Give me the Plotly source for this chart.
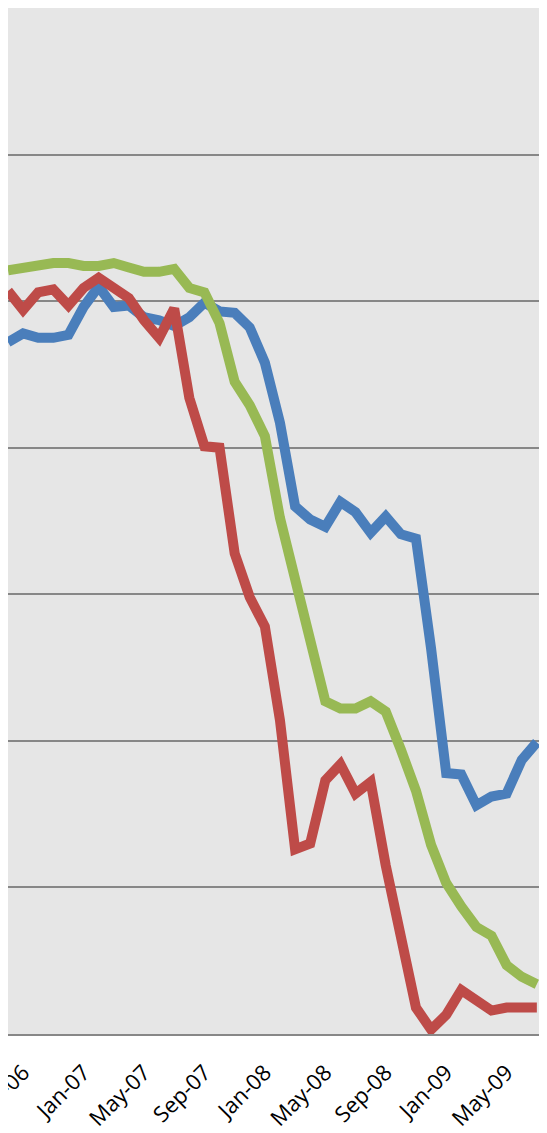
import plotly.graph_objects as go

months = ["Aug-06", "Sep-06", "Oct-06", "Nov-06", "Dec-06", "Jan-07", "Feb-07", "Mar-07",
          "Apr-07", "May-07", "Jun-07", "Jul-07", "Aug-07", "Sep-07", "Oct-07", "Nov-07",
          "Dec-07", "Jan-08", "Feb-08", "Mar-08", "Apr-08", "May-08", "Jun-08", "Jul-08",
          "Aug-08", "Sep-08", "Oct-08", "Nov-08", "Dec-08", "Jan-09", "Feb-09", "Mar-09",
          "Apr-09", "May-09", "Jun-09", "Jul-09"]

blue = [47.2, 47.8, 47.5, 47.5, 47.7, 49.6, 51.0, 49.6, 49.7, 48.9, 48.7, 48.3,
        48.9, 49.9, 49.3, 49.2, 48.2, 45.8, 41.7, 36.0, 35.1, 34.6, 36.3, 35.6,
        34.2, 35.3, 34.1, 33.8, 26.3, 17.8, 17.7, 15.6, 16.2, 16.4, 18.7, 19.9]

red = [50.7, 49.4, 50.6, 50.8, 49.7, 50.9, 51.6, 50.9, 50.2, 48.7, 47.5, 49.5,
       43.4, 40.1, 40.0, 32.8, 29.8, 27.8, 21.4, 12.6, 13.0, 17.3, 18.4, 16.4,
       17.2, 11.5, 6.6, 1.8, 0.3, 1.3, 3.0, 2.2, 1.6, 1.8, 1.8, 1.8]

green = [52.1, 52.3, 52.5, 52.6, 52.6, 52.4, 52.4, 52.6, 52.3, 52.0, 52.0, 52.2,
         50.9, 50.6, 48.5, 44.5, 42.9, 40.8, 35.2, 30.8, 26.9, 22.7, 22.2, 22.2,
         22.7, 22.0, 19.4, 16.6, 12.9, 10.3, 8.7, 7.3, 6.7, 4.7, 3.9, 3.4]

tick_labels = ["Sep-06", "Jan-07", "May-07", "Sep-07", "Jan-08", "May-08",
               "Sep-08", "Jan-09", "May-09"]

x = list(range(len(months)))
tick_pos = [months.index(t) for t in tick_labels]

fig = go.Figure()
for vals, col in [(blue, "#4A7EBB"), (red, "#BE4B48"), (green, "#98B954")]:
    fig.add_trace(go.Scatter(x=x, y=vals, mode="lines",
                             line=dict(color=col, width=10),
                             showlegend=False, hoverinfo="skip"))

fig.update_layout(
    width=539, height=1125,
    margin=dict(l=0, r=0, t=0, b=99, pad=0),
    paper_bgcolor="white",
    plot_bgcolor="#E6E6E6",
    xaxis=dict(range=[0, 539 / 15.11], tickvals=tick_pos, ticktext=tick_labels,
               tickangle=-45, showgrid=False, zeroline=False,
               showline=True, linecolor="#878787", linewidth=2,
               tickfont=dict(family="Open Sans", size=22, color="black"),
               ticks="", ticklabeloverflow="allow", ticklabelstandoff=15,
               automargin=False),
    yaxis=dict(range=[0, 70], dtick=10, showgrid=True, gridcolor="#878787",
               gridwidth=2, zeroline=False, showticklabels=False, ticks="",
               automargin=False),
)

fig.write_html("out.html")
